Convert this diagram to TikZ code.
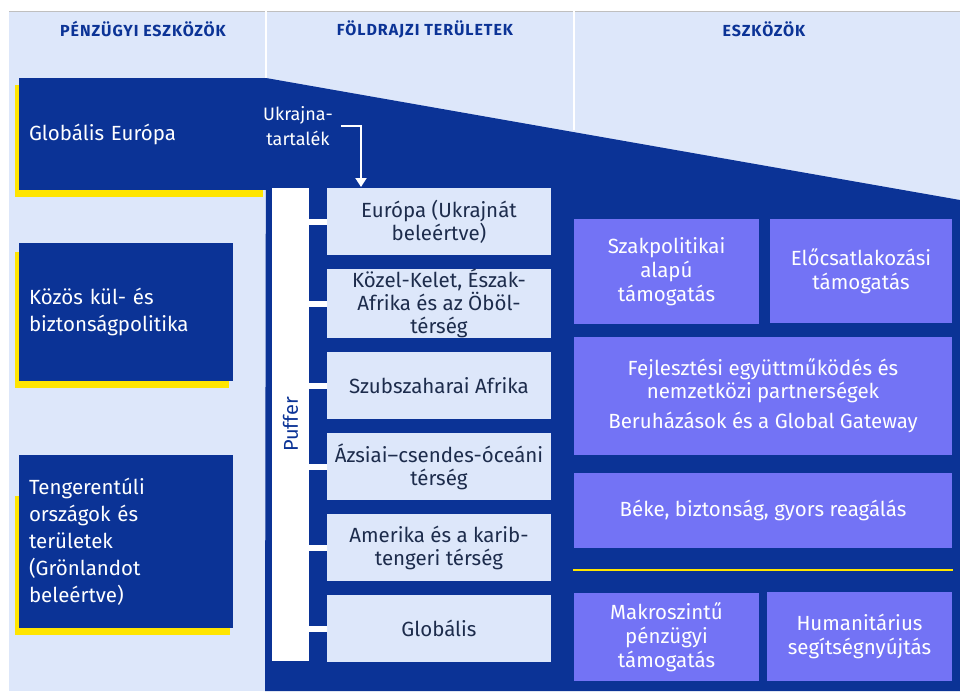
\documentclass[tikz,border=0pt]{standalone}
\usepackage{fontspec}
\setmainfont{Fira Sans}
\usetikzlibrary{arrows.meta}
\definecolor{eublue}{HTML}{0B3396}
\definecolor{paleblue}{HTML}{DDE7FA}
\definecolor{violet}{HTML}{7373F5}
\definecolor{euyellow}{HTML}{FFE500}
\definecolor{navy}{HTML}{1D2C4C}
\newcommand{\BODY}{\fontsize{20.5}{23}\selectfont}
\tikzset{>={Triangle[width=11pt,length=9pt]}}
\tikzset{
  head/.style={text=eublue,
    font=\bfseries\fontsize{16}{19}\selectfont\addfontfeatures{LetterSpace=6}},
  fundbox/.style={fill=eublue, text=white, align=left, inner xsep=10pt,
    inner ysep=0pt, font=\fontsize{20.5}{27}\selectfont},
  region/.style={fill=paleblue, text=navy, align=center, minimum width=224pt,
    minimum height=67pt, inner sep=0pt, font=\BODY},
  tool/.style={fill=violet, text=white, align=center, inner sep=0pt,
    font=\fontsize{20.5}{24}\selectfont},
  stub/.style={draw=white, line width=6pt},
}

\begin{document}
\begin{tikzpicture}[x=1pt,y=-1pt]

  \useasboundingbox (0,0) rectangle (960,691);
  \fill[paleblue] (9,11) rectangle (960,691);
  \draw[black!25, line width=1pt] (9,11) -- (960,11);
  \draw[white, line width=1.5pt] (266,11) -- (266,78);
  \draw[white, line width=1.5pt] (574,11) -- (574,130);

  \node[head] (h1) at (143,29) {PÉNZÜGYI ESZKÖZÖK};
  \node[head] (h2) at (425,29) {FÖLDRAJZI TERÜLETEK};
  \node[head] (h3) at (764,29) {ESZKÖZÖK};

  %% wedge
  \fill[eublue] (266,78) -- (960,200) -- (960,691) -- (265,691) -- cycle;

  %% yellow edges
  \fill[euyellow] (15,85) rectangle (263,197);
  \fill[euyellow] (15,252) rectangle (229,388);
  \fill[euyellow] (15,496) rectangle (230,635);

  \node[fundbox, text width=227pt, minimum height=112pt] (glob) at (142.5,134)
  {Globális Európa};
  \node[fundbox, text width=194pt, minimum height=138pt] (kkbp) at (126,312)
  {Közös kül- és\\biztonságpolitika};
  \node[fundbox, text width=194pt, minimum height=173pt] (ter) at (126,541.5)
  {Tengerentúli\\országok és\\területek\\(Grönlandot\\beleértve)};

  \node[fill=white, minimum width=37pt, minimum height=473pt, inner sep=0pt,
  text=eublue, font=\fontsize{20}{23}\selectfont] (puffer) at (290.5,424.5)
  {\rotatebox{90}{Puffer}};

  \node[region] (eur) at (439,221.5) {Európa (Ukrajnát\\beleértve)};
  \node[region] (mena) at (439,303.5) {Közel-Kelet, Észak-\\Afrika és az Öböl-\\térség};
  \node[region] (ssa) at (439,385.5) {Szubszaharai Afrika};
  \node[region] (asia) at (439,466.5) {Ázsiai–csendes-óceáni\\térség};
  \node[region] (amer) at (439,547.5) {Amerika és a karib-\\tengeri térség};
  \node[region] (glb) at (439,628.5) {Globális};

  \foreach \r in {eur,mena,ssa,asia,amer,glb}
  \draw[stub] (puffer.east |- \r.west) -- (\r.west); %% puffer -> region

  \node[text=white, align=center, inner sep=0pt,
  font=\fontsize{18}{25}\selectfont] (ukr) at (298,126) {Ukrajna-\\tartalék};
  \coordinate (ukrend) at (361,187);
  \draw[white, line width=2pt, ->] ([xshift=8pt]ukr.east) -| (ukrend);

  \node[tool, minimum width=185pt, minimum height=105pt] (szak) at (666.5,271.5)
  {Szakpolitikai\\alapú\\támogatás};
  \node[tool, minimum width=182pt, minimum height=104pt] (elo) at (861,271)
  {Előcsatlakozási\\támogatás};
  \node[tool, minimum width=378pt, minimum height=118pt,
  font=\fontsize{20.5}{23}\selectfont] (fejl) at (763,396)
  {Fejlesztési együttműködés és\\nemzetközi partnerségek\\[7pt]
    Beruházások és a Global Gateway};
  \node[tool, minimum width=378pt, minimum height=75pt] (beke) at (763,510.5)
  {Béke, biztonság, gyors reagálás};
  \draw[euyellow, line width=2.5pt] (573,570) -- (953,570);
  \node[tool, minimum width=185pt, minimum height=88pt] (makro) at (666.5,637)
  {Makroszintű\\pénzügyi\\támogatás};
  \node[tool, minimum width=185pt, minimum height=89pt] (hum) at (859.5,636.5)
  {Humanitárius\\segítségnyújtás};

\end{tikzpicture}
\end{document}
